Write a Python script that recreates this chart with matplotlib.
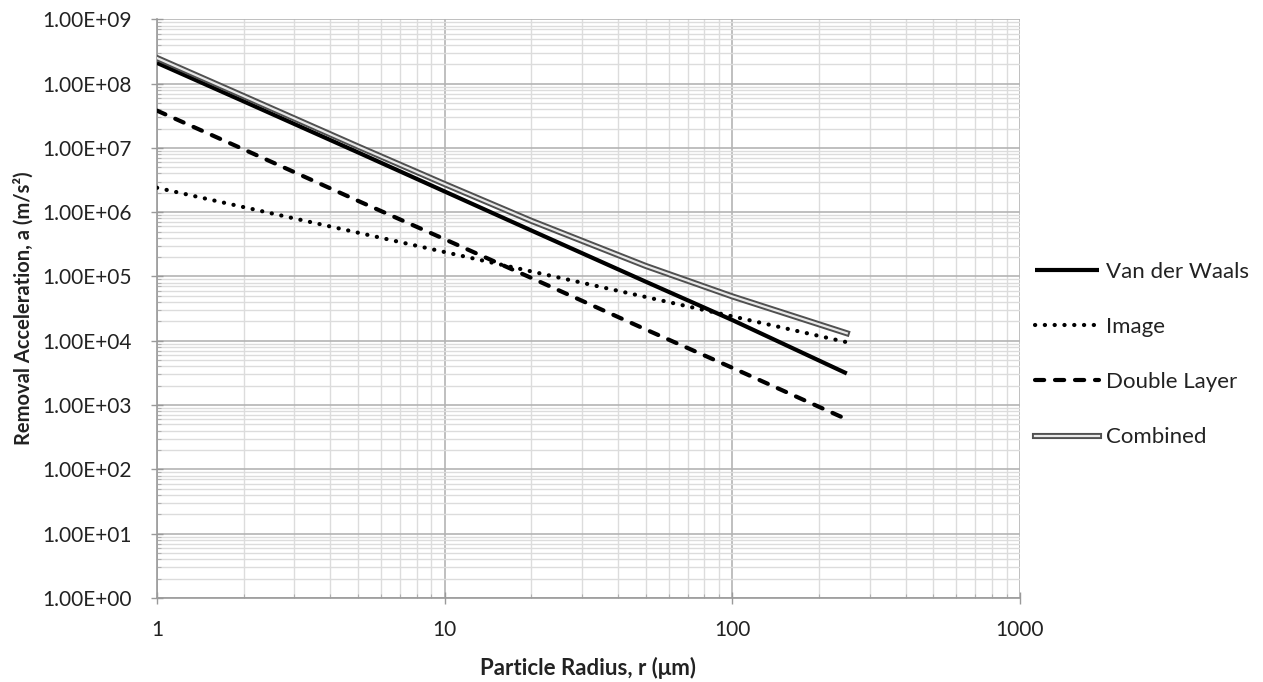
import math
import matplotlib
matplotlib.use("Agg")
import matplotlib.pyplot as plt
import matplotlib.patheffects as pe
from matplotlib.ticker import LogLocator, FixedLocator, FuncFormatter, NullFormatter

# Data
radius = [1, 2, 5, 10, 20, 50, 100, 250]
van_der_waals = [2.1e8, 5.3e7, 8.5e6, 2.1e6, 5.2e5, 8.3e4, 2.1e4, 3.1e3]
image = [2.4e6, 1.2e6, 4.8e5, 2.4e5, 1.2e5, 4.8e4, 2.4e4, 9.5e3]
double_layer = [3.8e7, 9.5e6, 1.5e6, 3.8e5, 9.5e4, 1.5e4, 3.8e3, 6.0e2]
combined = [2.5e8, 6.4e7, 1.05e7, 2.74e6, 7.35e5, 1.46e5, 4.9e4, 1.31e4]

x_ticks = [1, 10, 100, 1000]
x_tick_labels = ["1", "10", "100", "1000"]
y_ticks = [1e0, 1e1, 1e2, 1e3, 1e4, 1e5, 1e6, 1e7, 1e8, 1e9]

plt.rcParams['font.family'] = ['Lato', 'DejaVu Sans']

fig = plt.figure(figsize=(12.63, 6.82), dpi=100)
ax = fig.add_axes([0.1243, 0.1232, 0.8076 - 0.1243, 0.9717 - 0.1232])

ax.set_xscale('log')
ax.set_yscale('log')
ax.set_xlim(1, 1000)
ax.set_ylim(1, 1e9)

ax.plot(radius, van_der_waals, color='black', lw=3.0, solid_capstyle='butt', label='Van der Waals', zorder=4)
ax.plot(radius, image, color='black', lw=3.0, linestyle=(0, (0.05, 2.3)), dash_capstyle='round',
        label='Image', zorder=4)
ax.plot(radius, double_layer, color='black', lw=3.0, linestyle=(0, (2.2, 2.6)), dash_capstyle='round',
        label='Double Layer', zorder=4)
ax.plot(radius, combined, color='#e8e8e8', lw=1.6, label='Combined', zorder=5,
        path_effects=[pe.Stroke(linewidth=4.4, foreground='#505050'), pe.Normal()])

ax.xaxis.set_major_locator(FixedLocator(x_ticks))
ax.xaxis.set_major_formatter(FuncFormatter(lambda v, p: x_tick_labels[x_ticks.index(v)] if v in x_ticks else ""))
ax.xaxis.set_minor_locator(LogLocator(base=10, subs=range(2, 10), numticks=20))
ax.xaxis.set_minor_formatter(NullFormatter())
ax.yaxis.set_major_locator(FixedLocator(y_ticks))
ax.yaxis.set_major_formatter(FuncFormatter(lambda v, p: "1.00E+%02d" % round(math.log10(v))))
ax.yaxis.set_minor_locator(LogLocator(base=10, subs=range(2, 10), numticks=20))
ax.yaxis.set_minor_formatter(NullFormatter())

ax.grid(which='major', color='#b4b4b4', lw=1.2, zorder=0)
ax.grid(which='minor', color='#dcdcdc', lw=1.0, zorder=0)
ax.set_axisbelow(True)

for s in ['top', 'right']:
    ax.spines[s].set_visible(False)
for s in ['left', 'bottom']:
    ax.spines[s].set_color('#9a9a9a')
    ax.spines[s].set_linewidth(1.2)

ax.tick_params(axis='both', which='major', direction='inout', length=8, width=1.0, color='#9a9a9a',
               labelsize=15, labelcolor='#222222')
ax.tick_params(axis='both', which='minor', direction='in', length=3, width=0.8, color='#b0b0b0')
ax.tick_params(axis='x', which='major', pad=12)
ax.tick_params(axis='y', which='major', pad=14)

ax.set_xlabel('Particle Radius, r (\u03bcm)', fontsize=16, fontweight='bold', labelpad=12, color='#222222')
ax.set_ylabel('Removal Acceleration, a (m/s\u00b2)', fontsize=14.5, fontweight='bold', color='#222222')
ax.yaxis.set_label_coords(-0.143, 0.5)

leg = fig.legend(loc='upper left', bbox_to_anchor=(1015 / 1263, 1 - 242 / 682), frameon=False,
                 fontsize=16, handlelength=2.9, labelspacing=1.58, handletextpad=0.3)
for t in leg.get_texts():
    t.set_color('#222222')

fig.savefig('out.png', dpi=100)
